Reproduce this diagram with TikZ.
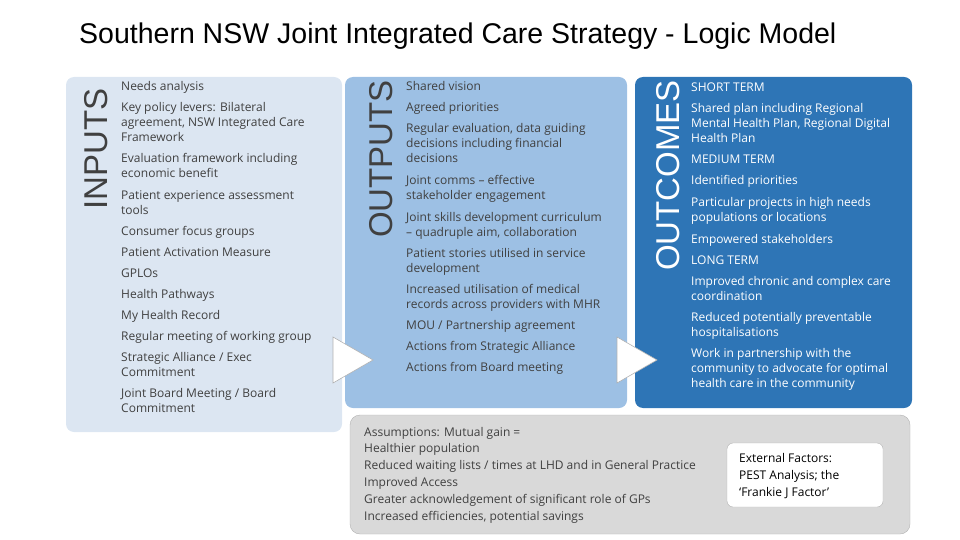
\documentclass[tikz,border=0pt]{standalone}
\usepackage{fontspec}
\setmainfont{Liberation Sans}
\newfontfamily\bodyf{Open Sans}
\begin{document}
\begin{tikzpicture}[x=1pt,y=-1pt,
  itm/.style={anchor=base west,inner sep=0pt,font=\bodyf\fontsize{12}{14}\selectfont},
  side/.style={rotate=90,anchor=south east,inner sep=0pt,font=\fontsize{33}{36}\selectfont},
  tri/.style={fill=white,draw=gray!60,line width=0.6pt}]
\useasboundingbox (0,0) rectangle (960,540);
\definecolor{lb}{HTML}{DCE6F2}\definecolor{mb}{HTML}{9DC0E4}\definecolor{db}{HTML}{2E75B6}
\definecolor{tx}{HTML}{404040}
\node[anchor=base west,inner sep=0pt,font=\fontsize{28.5}{32}\selectfont,text=black] (title) at (79,44) {Southern NSW Joint Integrated Care Strategy - Logic Model};
\fill[lb,rounded corners=8pt] (66,77) rectangle (342,432);
\fill[mb,rounded corners=8pt] (345,77) rectangle (627,408);
\fill[db,rounded corners=8pt] (635,77) rectangle (912,408);
\fill[gray!30,draw=gray!60,rounded corners=10pt] (350,415) rectangle (910,534);
\fill[white,draw=gray!60,rounded corners=6pt] (727,443) rectangle (883,507);
\node[side,text=tx] (inp) at (108,88) {INPUTS};
\node[side,text=tx] (outp) at (393,80) {OUTPUTS};
\node[side,text=white] (outc) at (680,80) {OUTCOMES};
\draw[tri] (333,337) -- (373,360) -- (333,383) -- cycle;
\draw[tri] (617,337) -- (657,360) -- (617,383) -- cycle;
\foreach \y/\t in {91/Needs analysis,112/{Key policy levers: Bilateral},127/{agreement, NSW Integrated Care},142/Framework,163/Evaluation framework including,178/economic benefit,199/Patient experience assessment,214/tools,235/Consumer focus groups,256/Patient Activation Measure,277/GPLOs,298/Health Pathways,319/My Health Record,340/Regular meeting of working group,361/{Strategic Alliance / Exec},376/Commitment,397/{Joint Board Meeting / Board},412/Commitment}
  \node[itm,text=tx] at (121,\y) {\t};
\foreach \y/\t in {91/Shared vision,112/Agreed priorities,133/{Regular evaluation, data guiding},148/decisions including financial,163/decisions,185/Joint comms – effective,200/stakeholder engagement,221/Joint skills development curriculum,236/{– quadruple aim, collaboration},257/Patient stories utilised in service,272/development,293/Increased utilisation of medical,308/records across providers with MHR,329/{MOU / Partnership agreement},350/Actions from Strategic Alliance,371/Actions from Board meeting}
  \node[itm,text=tx] at (406,\y) {\t};
\foreach \y/\t in {92/SHORT TERM,113/Shared plan including Regional,128/{Mental Health Plan, Regional Digital},143/Health Plan,164/MEDIUM TERM,185/Identified priorities,206/Particular projects in high needs,221/populations or locations,243/Empowered stakeholders,264/LONG TERM,285/Improved chronic and complex care,300/coordination,321/Reduced potentially preventable,336/hospitalisations,357/Work in partnership with the,372/community to advocate for optimal,387/health care in the community}
  \node[itm,text=white] at (691,\y) {\t};
\foreach \y/\t in {436/Assumptions: Mutual gain =,452/Healthier population,469/{Reduced waiting lists / times at LHD and in General Practice},486/Improved Access,503/Greater acknowledgement of significant role of GPs,520/{Increased efficiencies, potential savings}}
  \node[itm,text=tx] at (364,\y) {\t};
\foreach \y/\t in {462/External Factors:,479/PEST Analysis; the,496/‘Frankie J Factor’}
  \node[itm,text=black] at (739,\y) {\t};
\end{tikzpicture}
\end{document}
